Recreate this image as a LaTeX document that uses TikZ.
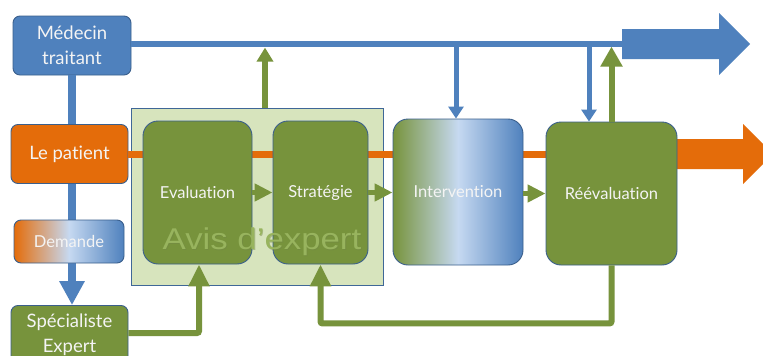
\documentclass[tikz,border=0pt]{standalone}
\usepackage{fontspec}
\setmainfont{Lato}[Ligatures=NoCommon]
\newfontfamily\arialfont{Liberation Sans}
\usetikzlibrary{arrows.meta,calc}
\definecolor{cblue}{HTML}{4F81BD}
\definecolor{cdark}{HTML}{3A5F8C}
\definecolor{corange}{HTML}{E46C0A}
\definecolor{cgreen}{HTML}{77933C}
\definecolor{cpale}{HTML}{D7E4BD}
\definecolor{clight}{HTML}{C6D9F1}
\definecolor{cavis}{HTML}{98B45E}
\definecolor{ctext}{HTML}{F4F4F4}
\begin{document}
\begin{tikzpicture}[x=1pt,y=-1pt,
  box/.style={draw=cdark, line width=0.9pt, rounded corners=7pt, text=ctext, align=center, inner sep=0pt},
  bigbox/.style={box, rounded corners=15pt, font=\fontsize{16.5}{20}\selectfont},
  sidebox/.style={box, font=\fontsize{18.5}{25}\selectfont},
  bline/.style={cblue, line width=6pt},
  oline/.style={corange, line width=7pt},
  garrow/.style={cgreen, line width=5pt, -{Triangle[length=18pt,width=17pt]}},
  barrow/.style={cblue, line width=5pt, -{Triangle[length=12pt,width=15pt]}},
  gup/.style={cgreen, line width=6pt, -{Triangle[length=20pt,width=21pt]}},
  gfeed/.style={cgreen, line width=6pt, rounded corners=2pt, -{Triangle[length=22pt,width=20pt]}}
]
\clip (0,0) rectangle (763,356);
\fill[white] (0,0) rectangle (763,356);

% expert frame
\node[draw=cblue!80!black, fill=cpale, line width=0.8pt, minimum width=252pt, minimum height=177pt, inner sep=0pt] (avis) at (257,196.5) {};

\coordinate (bigB) at (622,44);
\coordinate (oA) at (677,154);

% side boxes
\node[sidebox, fill=cblue, minimum width=118pt, minimum height=59pt] (med) at (72,45.5) {Médecin\\traitant};
\node[sidebox, fill=cgreen, minimum width=117pt, minimum height=59pt] (spe) at (69.5,335) {Spécialiste\\Expert};
\draw[cblue, line width=8pt, -{Triangle[length=24pt,width=24pt]}] (med.south) -- (med.south |- spe.north);
\draw[bline] (med.east |- bigB) -- (bigB);
\fill[cblue] (bigB) ++(0,-15) -- ++(97,0) -- ++(0,-16) -- ++(31,31) -- ++(-31,31) -- ++(0,-16) -- ++(-97,0) -- cycle;

\node[sidebox, fill=corange, minimum width=117pt, minimum height=59pt] (pat) at (69.5,154) {Le patient};
\node[sidebox, font=\fontsize{16.5}{20}\selectfont, left color=corange, right color=cblue, middle color=clight, minimum width=110pt, minimum height=43pt] (dem) at (69,241.5) {Demande};

% orange line and big arrow
\draw[oline] (pat.east) -- (oA);
\fill[corange] (oA) ++(0,-15) -- ++(66,0) -- ++(0,-15) -- ++(30,30) -- ++(-30,30) -- ++(0,-15) -- ++(-66,0) -- cycle;

% process boxes
\node[bigbox, fill=cgreen, minimum width=109pt, minimum height=143pt] (eva) at (197.5,192.5) {Evaluation};
\node[bigbox, fill=cgreen, minimum width=95pt, minimum height=143pt] (str) at (320.5,192.5) {Stratégie};
\node[bigbox, left color=cgreen, right color=cblue, middle color=clight, minimum width=130pt, minimum height=146pt] (int) at (458,192) {Intervention};
\node[bigbox, fill=cgreen, minimum width=131pt, minimum height=143pt] (ree) at (611.5,193.5) {Réévaluation};

% arrows between boxes
\draw[garrow] (eva.east) -- (str.west);
\draw[garrow] (str.east) -- (str.east -| int.west);
\draw[garrow] (int.east |- ree.west) -- (ree.west);

% expert label
\node[font=\arialfont\fontsize{30}{30}\selectfont, text=cavis!75!black, opacity=0.45] at (262.8,242.8) {\scalebox{1.16}[1]{Avis d’expert}};
\node[font=\arialfont\fontsize{30}{30}\selectfont, text=cavis] (avistxt) at (262,242) {\scalebox{1.16}[1]{Avis d’expert}};

% blue down arrows
\draw[barrow] ($(bigB -| int.north)+(-2,0)$) -- ($(int.north)+(-2,0)$);
\draw[barrow] ($(bigB -| ree.north)+(-22.5,0)$) -- ($(ree.north)+(-22.5,0)$);

% green up arrows
\draw[gup, -{Triangle[length=14pt,width=16pt]}] ($(avis.north)+(8,0)$) -- ($(avis.north)+(8,-60)$);
\draw[gup] (ree.north) -- ($(ree.north)+(0,-75)$);

% feedback loops
\draw[gfeed] (ree.south) -- ($(ree.south)+(0,58)$) -| (str.south);
\draw[gfeed] (spe.east |- 0,333) -| ($(eva.south)+(1.5,0)$);
\end{tikzpicture}
\end{document}
